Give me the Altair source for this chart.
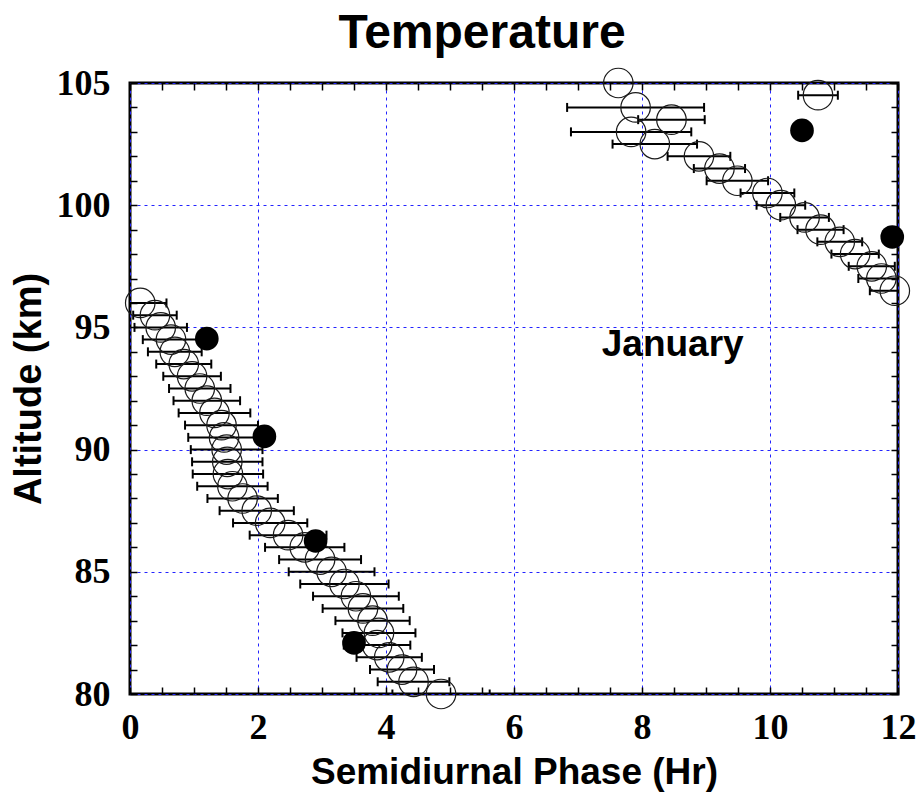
import altair as alt
import pandas as pd

# ---- data ----
alt_open = [105, 104.5, 104, 103.5, 103, 102.5, 102, 101.5, 101, 100.5, 100,
            99.5, 99, 98.5, 98, 97.5, 97, 96.5,
            96, 95.5, 95, 94.5, 94, 93.5, 93, 92.5, 92, 91.5, 91, 90.5, 90,
            89.5, 89, 88.5, 88, 87.5, 87, 86.5, 86, 85.5, 85, 84.5, 84, 83.5,
            83, 82.5, 82, 81.5, 81, 80.5, 80]
phase_open = [7.63, 10.75, 7.90, 8.46, 7.83, 8.20, 8.89, 9.21, 9.49, 9.96, 10.17,
              10.54, 10.79, 11.09, 11.33, 11.59, 11.74, 11.95,
              0.16, 0.39, 0.48, 0.64, 0.70, 0.84, 0.97, 1.09, 1.20, 1.32, 1.43, 1.47, 1.51,
              1.52, 1.53, 1.60, 1.76, 1.98, 2.19, 2.47, 2.73, 2.97, 3.15, 3.35, 3.53, 3.64,
              3.79, 3.89, 3.86, 4.05, 4.25, 4.43, 4.86]
# half width of the horizontal error bar (None = no bar visible)
err_half = [None, 0.31, 1.07, 0.52, 0.94, 0.66, 0.49, 0.40, 0.48, 0.42, 0.38,
            0.38, 0.36, 0.35, 0.37, 0.36, 0.36, 0.39,
            0.41, 0.34, 0.41, 0.44, 0.42, 0.43, 0.45, 0.48, 0.52, 0.56, 0.57, 0.56, 0.56,
            0.55, 0.55, 0.55, 0.55, 0.58, 0.58, 0.60, 0.62, 0.64, 0.67, 0.69, 0.67, 0.63,
            0.58, 0.57, 0.52, 0.51, 0.50, 0.56, 0.76]

alt_fill = [94.54, 90.54, 86.26, 82.09, 103.06, 98.70]
phase_fill = [1.20, 2.10, 2.90, 3.50, 10.50, 11.91]

x_labels = [0, 2, 4, 6, 8, 10, 12]
y_labels = [80, 85, 90, 95, 100, 105]
x_minor = [0, 0.5, 1, 1.5, 2, 2.5, 3, 3.5, 4, 4.5, 5, 5.5, 6, 6.5, 7, 7.5,
           8, 8.5, 9, 9.5, 10, 10.5, 11, 11.5, 12]
y_minor = list(range(80, 106))

note_text = ["January"]
note_x = [8.48]
note_y = [94.3]

# ---- tables ----
open_df = pd.DataFrame({"alt": alt_open, "phase": phase_open})
bar_rows = [(a, p - e, p + e) for a, p, e in zip(alt_open, phase_open, err_half) if e is not None]
bars_df = pd.DataFrame(bar_rows, columns=["alt", "lo", "hi"])
fill_df = pd.DataFrame({"alt": alt_fill, "phase": phase_fill})
note_df = pd.DataFrame({"x": note_x, "y": note_y, "t": note_text})

W, H = 768, 611
xs = alt.Scale(domain=[0, 12], nice=False, zero=False)
ys = alt.Scale(domain=[80, 105], nice=False, zero=False)
GRID = "#2424ff"

x_main = alt.Axis(values=x_labels, orient="bottom", title="Semidiurnal Phase (Hr)",
                  titleFont="Liberation Sans", titleFontSize=37, titleFontWeight="bold",
                  titleColor="black", titlePadding=9,
                  labelFont="Liberation Serif", labelFontSize=36, labelFontWeight="bold",
                  labelColor="black", labelPadding=16, labelFlush=False, format="d",
                  ticks=False, domain=False, grid=True, gridColor=GRID,
                  gridDash=[3, 4], gridWidth=1)
y_main = alt.Axis(values=y_labels, orient="left", title="Altitude (km)",
                  titleFont="Liberation Sans", titleFontSize=38, titleFontWeight="bold",
                  titleColor="black", titlePadding=8,
                  labelFont="Liberation Serif", labelFontSize=36, labelFontWeight="bold",
                  labelColor="black", labelPadding=20, labelFlush=False, format="d",
                  ticks=False, domain=False, grid=True, gridColor=GRID,
                  gridDash=[3, 4], gridWidth=1)


def tick_axis(orient, offset, values):
    return alt.Axis(orient=orient, offset=offset, values=values, labels=False,
                    domain=False, grid=False, ticks=True, tickSize=7, tickWidth=1.5,
                    tickColor="black", title="")


x_bot_ticks = tick_axis("top", -H, x_minor)
x_top_ticks = tick_axis("bottom", -H, x_minor)
y_left_ticks = tick_axis("right", -W, y_minor)
y_right_ticks = tick_axis("left", -W, y_minor)

rules = alt.Chart(bars_df).mark_rule(color="black", strokeWidth=2, clip=True).encode(
    x=alt.X("lo:Q", scale=xs, axis=x_top_ticks),
    x2="hi:Q",
    y=alt.Y("alt:Q", scale=ys, axis=y_right_ticks),
)
caps_lo = alt.Chart(bars_df).mark_tick(orient="vertical", size=9, thickness=2,
                                       color="black", opacity=1, clip=True).encode(
    x=alt.X("lo:Q", scale=xs, axis=None),
    y=alt.Y("alt:Q", scale=ys, axis=None),
)
caps_hi = alt.Chart(bars_df).mark_tick(orient="vertical", size=9, thickness=2,
                                       color="black", opacity=1, clip=True).encode(
    x=alt.X("hi:Q", scale=xs, axis=None),
    y=alt.Y("alt:Q", scale=ys, axis=None),
)
opens = alt.Chart(open_df).mark_point(shape="circle", filled=False, size=870,
                                      stroke="#1a1a1a", strokeWidth=1.2, opacity=1).encode(
    x=alt.X("phase:Q", scale=xs, axis=x_main),
    y=alt.Y("alt:Q", scale=ys, axis=y_main),
)
fills = alt.Chart(fill_df).mark_circle(size=560, color="black", opacity=1).encode(
    x=alt.X("phase:Q", scale=xs, axis=x_bot_ticks),
    y=alt.Y("alt:Q", scale=ys, axis=y_left_ticks),
)
note = alt.Chart(note_df).mark_text(font="Liberation Sans", fontSize=37,
                                    fontWeight="bold", color="black").encode(
    x=alt.X("x:Q", scale=xs, axis=None),
    y=alt.Y("y:Q", scale=ys, axis=None),
    text="t:N",
)

chart = alt.layer(rules, caps_lo, caps_hi, opens, fills, note).resolve_axis(
    x="independent", y="independent"
).properties(
    width=W, height=H,
    autosize=alt.AutoSizeParams(type="none"),
    padding={"left": 122, "top": 75, "right": 18, "bottom": 101},
    title=alt.TitleParams("Temperature", font="Liberation Sans", fontSize=48,
                          fontWeight="bold", color="black", anchor="middle",
                          offset=7, dx=-32),
).configure_view(stroke="black", strokeWidth=3)

chart.save("out.html", embed_options={"renderer": "svg", "actions": False})
